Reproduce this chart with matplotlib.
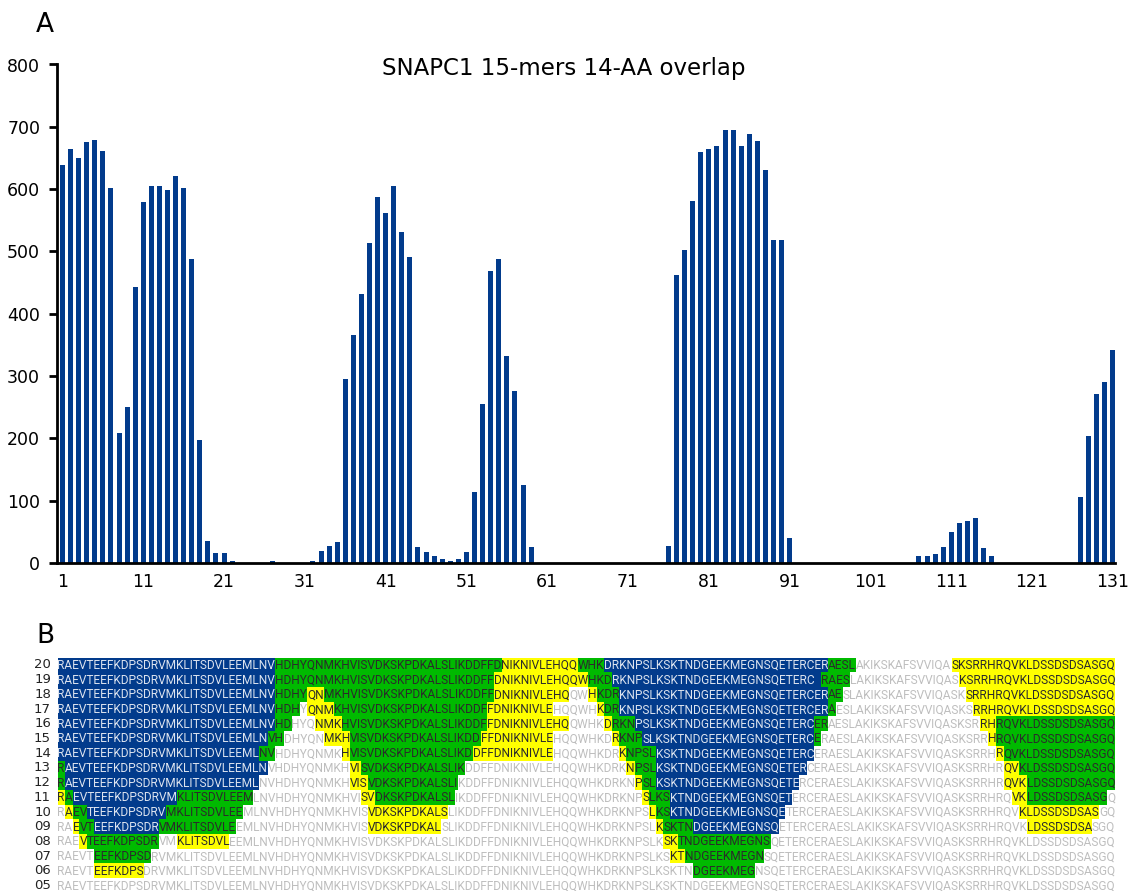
import warnings
import matplotlib
matplotlib.use("Agg")
import matplotlib.pyplot as plt
from matplotlib.patches import Rectangle
from matplotlib.font_manager import FontProperties, fontManager

warnings.filterwarnings("ignore")
W, H, DPI = 1128, 891, 100

# ---------------- data: panel A ----------------
positions = list(range(1, 132))
counts = [639, 664, 650, 675, 679, 661, 602, 208, 250, 443,
          579, 605, 605, 599, 621, 602, 488, 197, 35, 16,
          16, 4, 0, 0, 0, 0, 4, 0, 0, 0,
          0, 4, 19, 27, 34, 296, 366, 432, 514, 587,
          562, 605, 531, 491, 25, 17, 11, 7, 3, 7,
          17, 114, 255, 468, 488, 332, 276, 125, 25, 0,
          0, 0, 0, 0, 0, 0, 0, 0, 0, 0,
          0, 0, 0, 0, 0, 28, 462, 502, 581, 660,
          664, 669, 695, 695, 669, 688, 677, 631, 518, 518,
          40, 0, 0, 0, 0, 0, 0, 0, 0, 0,
          0, 0, 0, 0, 0, 0, 11, 11, 14, 25,
          49, 64, 67, 72, 24, 12, 0, 0, 0, 0,
          0, 0, 0, 0, 0, 0, 106, 204, 271, 290,
          342]
xtick_vals = list(range(1, 132, 10))
ytick_vals = list(range(0, 801, 100))
title = "SNAPC1 15-mers 14-AA overlap"

# ---------------- data: panel B ----------------
sequence = ("RAEVTEEFKDPSDRVMKLITSDVLEEMLNVHDHYQNMKHVISVDKSKPDKALSLIKDDFFD"
            "NIKNIVLEHQQWHKDRKNPSLKSKTNDGEEKMEGNSQETERCERAESLAKIKSKAFSVVIQ"
            "ASKSRRHRQVKLDSSDSDSASGQ")
row_labels = ["20", "19", "18", "17", "16", "15", "14", "13",
              "12", "11", "10", "09", "08", "07", "06", "05"]
# runs: colour code + last residue position (b=blue, g=green, y=yellow,
# n=no highlight, B=blue with hidden letter)
row_runs = [
    "b30 g61 y72 g75 b105 g109 n123 y145",
    "b30 g60 y73 g76 b103 B104 g108 n124 y145",
    "b30 g34 y36 g60 y71 n73 y74 g77 b105 g107 n125 y145",
    "b30 g33 n34 y37 g59 y69 n74 y75 g77 b105 g106 n126 y145",
    "b30 g32 n35 y38 g59 y71 n75 y76 g79 b103 g105 n127 y129 g145",
    "b29 g31 n36 y39 g58 y69 n76 y77 g80 b103 g104 n128 y129 g145",
    "b28 g30 n38 y39 g57 y69 n77 y78 g82 b103 n129 y130 g145",
    "g1 b29 n39 y41 g56 n78 y79 g82 b102 n130 y132 g145",
    "g1 b28 n39 y42 g55 n79 y80 g82 b101 n130 y133 g145",
    "y1 g2 b16 g27 n41 y43 g54 n80 y81 g84 b100 n131 y133 g144 n145",
    "n1 y2 g4 b15 g26 n42 y53 n81 y82 g84 b99 n132 y143 n145",
    "n2 y3 g5 b14 g25 n42 y52 n82 y83 g87 b98 n133 y142 n145",
    "n3 y4 g14 n16 y24 n83 y85 g97 n145",
    "n5 g13 n84 y86 g96 n145",
    "n5 y12 n87 g95 n145",
    "n145",
]

BLUE = "#023B8C"
GREEN = "#00BA00"
YELLOW = "#FFFF00"
bg_colors = {"b": BLUE, "B": BLUE, "g": GREEN, "y": YELLOW, "n": None}
fg_colors = {"b": "#DCE3EF", "B": BLUE, "g": "#2B2B2B", "y": "#2B2B2B", "n": "#BEBEBE"}

# ---------------- figure ----------------
fig = plt.figure(figsize=(W / DPI, H / DPI), dpi=DPI)

# panel A axes (pixel layout)
axl, axr, axtop, axbot = 56.8, 1115.3, 64.5, 563.0
ax = fig.add_axes([axl / W, 1 - axbot / H, (axr - axl) / W, (axbot - axtop) / H])
ax.bar(positions, counts, width=0.62, color=BLUE, linewidth=0)
ax.set_xlim(0.3, 131.3)
ax.set_ylim(0, 800)
ax.set_xticks(xtick_vals)
ax.set_yticks(ytick_vals)
ax.tick_params(axis="x", length=0, pad=7, labelsize=12.5)
ax.tick_params(axis="y", length=6, width=2, direction="out", pad=6, labelsize=12.5)
for s in ("top", "right"):
    ax.spines[s].set_visible(False)
for s in ("left", "bottom"):
    ax.spines[s].set_linewidth(2)
    ax.spines[s].set_color("black")

fig.text(564 / W, 1 - 68 / H, title, ha="center", va="center", fontsize=16.5)
fig.text(45 / W, 1 - 25 / H, "A", ha="center", va="center", fontsize=19)
fig.text(45 / W, 1 - 636 / H, "B", ha="center", va="center", fontsize=19)

# panel B: pixel-space axes
axb = fig.add_axes([0, 0, 1, 1], zorder=-1)
axb.set_xlim(0, W)
axb.set_ylim(H, 0)
axb.axis("off")

renderer = fig.canvas.get_renderer()
names = {f.name for f in fontManager.ttflist}
candidates = [n for n in ["Liberation Sans Narrow", "Roboto", "Lato", "Inter",
                          "Noto Sans", "Liberation Sans", "DejaVu Sans"] if n in names]
def _w(fam):
    return renderer.get_text_width_height_descent(sequence, FontProperties(family=fam, size=10),
                                                  ismath=False)[0]
seq_family = min(candidates, key=_w) if candidates else "DejaVu Sans"

x0, x1 = 57.5, 1116.0
fs = 10 * (x1 - x0) / _w(seq_family)
fp = FontProperties(family=seq_family, size=fs)
prefix = [0.0]
for k in range(1, len(sequence) + 1):
    prefix.append(renderer.get_text_width_height_descent(sequence[:k], fp, ismath=False)[0])

y0, dy = 665.0, 14.7
for i, (lab, runs) in enumerate(zip(row_labels, row_runs)):
    yc = y0 + i * dy
    axb.text(51, yc, lab, ha="right", va="center", fontsize=9.5, color="#222222")
    start = 1
    for tok in runs.split():
        code, end = tok[0], int(tok[1:])
        xa = x0 + prefix[start - 1]
        xb = x0 + prefix[end]
        bg = bg_colors[code]
        if bg is not None:
            axb.add_patch(Rectangle((xa, yc - dy / 2), xb - xa, dy, facecolor=bg,
                                    edgecolor="none", antialiased=False))
        axb.text(xa, yc + 0.5, sequence[start - 1:end], fontproperties=fp,
                 color=fg_colors[code], ha="left", va="center")
        start = end + 1

fig.savefig("out.png", dpi=DPI)
